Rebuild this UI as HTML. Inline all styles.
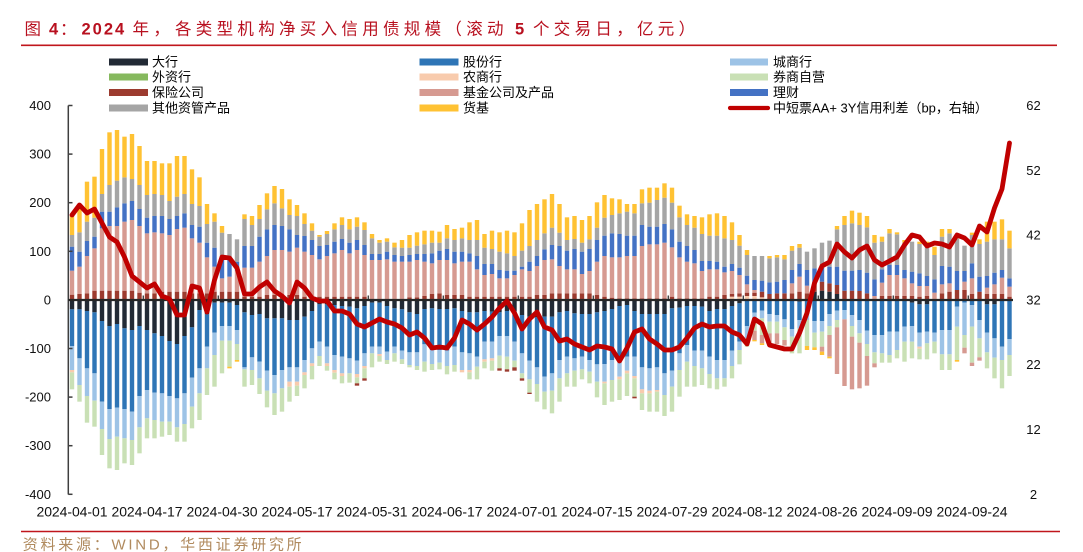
<!DOCTYPE html>
<html>
<head>
<meta charset="utf-8">
<style>
html,body{margin:0;padding:0;background:#fff;}
body{width:1083px;height:552px;overflow:hidden;}
svg{display:block;}
.t{font-family:"Liberation Sans","Noto Sans CJK SC",sans-serif;}
</style>
</head>
<body>
<svg id="chart" width="1083" height="552" viewBox="0 0 1083 552" xmlns="http://www.w3.org/2000/svg">
  <rect x="0" y="0" width="1083" height="552" fill="#ffffff"/>
  <!-- Title -->
  <g class="t" font-size="16.5" fill="#B8101F">
    <text x="24.5" y="34.5">图</text>
    <text x="49" y="34.5" font-weight="bold">4</text>
    <text x="60" y="34.5">：</text>
    <text x="81.5" y="34.5" font-weight="bold" letter-spacing="2">2024</text>
    <text x="132.5" y="34.5" letter-spacing="4.4">年，</text>
    <text x="175" y="34.5" letter-spacing="4.3">各类型机构净买入信用债规模（滚动</text>
    <text x="515" y="34.5" font-weight="bold">5</text>
    <text x="533" y="34.5" letter-spacing="4.3">个交易日，亿元）</text>
  </g>
  <line x1="21" y1="45.3" x2="1057" y2="45.3" stroke="#C0161C" stroke-width="1.6"/>

  <!-- Legend -->
  <g class="t" font-size="13" fill="#000">
    <rect x="109" y="58.5" width="39" height="7" fill="#222A35"/><text x="152" y="66.5">大行</text>
    <rect x="419.5" y="58.5" width="39" height="7" fill="#2E75B6"/><text x="463" y="66.5">股份行</text>
    <rect x="730" y="58.5" width="38" height="7" fill="#9DC3E6"/><text x="773" y="66.5">城商行</text>

    <rect x="109" y="73.5" width="39" height="7" fill="#86B95E"/><text x="152" y="81.5">外资行</text>
    <rect x="419.5" y="73.5" width="39" height="7" fill="#F8CBAD"/><text x="463" y="81.5">农商行</text>
    <rect x="730" y="73.5" width="38" height="7" fill="#C9E0B5"/><text x="773" y="81.5">券商自营</text>

    <rect x="109" y="89" width="39" height="7" fill="#9C3B2F"/><text x="152" y="97">保险公司</text>
    <rect x="419.5" y="89" width="39" height="7" fill="#D69A91"/><text x="463" y="97">基金公司及产品</text>
    <rect x="730" y="89" width="38" height="7" fill="#4472C4"/><text x="773" y="97">理财</text>

    <rect x="109" y="104.5" width="39" height="7" fill="#A5A5A5"/><text x="152" y="112.5">其他资管产品</text>
    <rect x="419.5" y="104.5" width="39" height="7" fill="#FFC233"/><text x="463" y="112.5">货基</text>
    <line x1="730" y1="108" x2="768" y2="108" stroke="#C00000" stroke-width="4.2" stroke-linecap="round"/><text x="773" y="112.5">中短票AA+ 3Y信用利差（bp，右轴）</text>
  </g>

  <!-- Left axis labels -->
  <g class="t" font-size="13" fill="#111" text-anchor="end">
    <text x="51" y="110">400</text>
    <text x="51" y="158.6">300</text>
    <text x="51" y="207.2">200</text>
    <text x="51" y="255.8">100</text>
    <text x="51" y="304.4">0</text>
    <text x="51" y="353">-100</text>
    <text x="51" y="401.6">-200</text>
    <text x="51" y="450.2">-300</text>
    <text x="51" y="498.8">-400</text>
  </g>
  <!-- Right axis labels -->
  <g class="t" font-size="13" fill="#111" text-anchor="middle">
    <text x="1033.5" y="110">62</text>
    <text x="1033.5" y="174.8">52</text>
    <text x="1033.5" y="239.6">42</text>
    <text x="1033.5" y="304.4">32</text>
    <text x="1033.5" y="369.2">22</text>
    <text x="1033.5" y="434">12</text>
    <text x="1033.5" y="498.8">2</text>
  </g>

  <!-- Bars (generated) -->
  <g id="bars"></g>

  <!-- Left axis -->
  <g stroke="#3f3f3f" stroke-width="1.5">
    <line x1="68.3" y1="105.5" x2="68.3" y2="494.5"/>
    <line x1="68.3" y1="105.5" x2="72.5" y2="105.5"/>
    <line x1="68.3" y1="154.1" x2="72.5" y2="154.1"/>
    <line x1="68.3" y1="202.7" x2="72.5" y2="202.7"/>
    <line x1="68.3" y1="251.3" x2="72.5" y2="251.3"/>
    <line x1="68.3" y1="348.5" x2="72.5" y2="348.5"/>
    <line x1="68.3" y1="397.1" x2="72.5" y2="397.1"/>
    <line x1="68.3" y1="445.7" x2="72.5" y2="445.7"/>
    <line x1="68.3" y1="494.3" x2="72.5" y2="494.3"/>
  </g>
  <!-- Zero line and category ticks -->
  <line x1="68.3" y1="300" x2="1013" y2="300" stroke="#262626" stroke-width="2.2"/>
  <g stroke="#262626" stroke-width="1.2">
    <line x1="143.25" y1="295.5" x2="143.25" y2="300"/>
    <line x1="218.25" y1="295.5" x2="218.25" y2="300"/>
    <line x1="293.25" y1="295.5" x2="293.25" y2="300"/>
    <line x1="368.25" y1="295.5" x2="368.25" y2="300"/>
    <line x1="443.25" y1="295.5" x2="443.25" y2="300"/>
    <line x1="518.25" y1="295.5" x2="518.25" y2="300"/>
    <line x1="593.25" y1="295.5" x2="593.25" y2="300"/>
    <line x1="668.25" y1="295.5" x2="668.25" y2="300"/>
    <line x1="743.25" y1="295.5" x2="743.25" y2="300"/>
    <line x1="818.25" y1="295.5" x2="818.25" y2="300"/>
    <line x1="893.25" y1="295.5" x2="893.25" y2="300"/>
    <line x1="968.25" y1="295.5" x2="968.25" y2="300"/>
  </g>

  <!-- Spread line -->
  <polyline id="spread" fill="none" stroke="#C00000" stroke-width="4.8" stroke-linejoin="round" stroke-linecap="round" points=""/>

  <!-- X axis labels -->
  <g class="t" font-size="14" fill="#111">
    <text x="36.5" y="516.5" textLength="71" lengthAdjust="spacing">2024-04-01</text>
    <text x="111.5" y="516.5" textLength="71" lengthAdjust="spacing">2024-04-17</text>
    <text x="186.5" y="516.5" textLength="71" lengthAdjust="spacing">2024-04-30</text>
    <text x="261.5" y="516.5" textLength="71" lengthAdjust="spacing">2024-05-17</text>
    <text x="336.5" y="516.5" textLength="71" lengthAdjust="spacing">2024-05-31</text>
    <text x="411.5" y="516.5" textLength="71" lengthAdjust="spacing">2024-06-17</text>
    <text x="486.5" y="516.5" textLength="71" lengthAdjust="spacing">2024-07-01</text>
    <text x="561.5" y="516.5" textLength="71" lengthAdjust="spacing">2024-07-15</text>
    <text x="636.5" y="516.5" textLength="71" lengthAdjust="spacing">2024-07-29</text>
    <text x="711.5" y="516.5" textLength="71" lengthAdjust="spacing">2024-08-12</text>
    <text x="786.5" y="516.5" textLength="71" lengthAdjust="spacing">2024-08-26</text>
    <text x="861.5" y="516.5" textLength="71" lengthAdjust="spacing">2024-09-09</text>
    <text x="936.5" y="516.5" textLength="71" lengthAdjust="spacing">2024-09-24</text>
  </g>

  <!-- Footer -->
  <line x1="21" y1="531.5" x2="1060" y2="531.5" stroke="#C0161C" stroke-width="1.6"/>
  <text class="t" x="22.7" y="549.5" font-size="15" fill="#B08A5E" textLength="279" lengthAdjust="spacing">资料来源：WIND，华西证券研究所</text>
</svg>

<script>
(function(){
var C={K:'#222A35',S:'#2E75B6',L:'#9DC3E6',W:'#86B95E',P:'#F8CBAD',G:'#C9E0B5',R:'#9C3B2F',F:'#D69A91',B:'#4472C4',O:'#A5A5A5',Y:'#FFC233'};
var P=[
"R524 F452 B380 O345 Y288","R522 F440 B395 O337 Y252","R520 F408 B363 O305 Y185","R512 F385 B350 O293 Y170","R512 F325 B275 O222 Y87",
"R512 F318 B275 O195 Y37","R512 F318 B262 O182 Y30","R512 F305 B250 O172 Y50","R512 F300 B243 O177 Y42","R518 F318 B267 O195 Y78",
"R520 F340 B293 O225 Y123","R520 F337 B288 O222 Y123","R515 F340 B288 O225 Y130","R515 F345 B297 O243 Y130","R515 F327 B288 O230 Y108",
"R515 F323 B280 O222 Y108","R520 F355 B315 O252 Y148","R520 F368 B320 O258 Y172","R520 F412 B368 O312 Y252","R515 F440 B383 O305 Y280",
"R515 F475 B410 O338 Y318","R515 F470 B420 O342","R515 F452 B425 O358","R530 F443 B378 O297 Y283","R530 F443 B378 O315 Y288",
"R530 F425 B350 O297 Y255","R525 F408 B328 O268 Y220","R525 F390 B315 O250 Y198","R525 F390 B318 O265 Y207","R525 F395 B328 O285 Y238",
"R525 F383 B345 O288 Y255","R530 F395 B348 O312 Y280","R530 F405 B360 O332 Y310","R530 F418 B378 O350 Y345","R530 F408 B375 O342 Y333",
"R530 F400 B365 O328 Y310","R530 F390 B357 O315 Y292","R530 F400 B368 O328 Y297","R530 F390 B360 O320 Y292","R530 F405 B375 O330 Y307",
"F420 B402 O355 Y342","F420 B402 O368 Y360","F418 B395 O365 Y355","F425 B405 O382 Y368","F425 B408 O383 Y360",
"R532 F425 B405 O383 Y345","R532 F420 B402 O377 Y337","R528 F425 B402 O373 Y332","R522 F430 B400 O368 Y332","R520 F420 B392 O368 Y335",
"R525 F420 B387 O355 Y315","R525 F430 B395 O360 Y327","R525 F425 B395 O355 Y323","R530 F425 B400 O360 Y307","R530 F448 B408 O360 Y300",
"R530 F465 B432 O383 Y342","R530 F462 B432 O387 Y332","R530 F475 B450 O395 Y337","R530 F475 B452 O400 Y332","R530 F465 B452 O408 Y337",
"R530 F448 B440 O392 Y310","R530 F453 B425 O378 Y270","R525 F438 B408 O360 Y252","R525 F420 B388 O340 Y238","R520 F418 B375 O323 Y222",
"R520 F438 B378 O338 Y252","R520 F448 B392 O360 Y292","R520 F448 B387 O357 Y288","R520 F462 B395 O368 Y300","R520 F453 B387 O358 Y288",
"R525 F425 B360 O323 Y247","R530 F408 B347 O293 Y225","R533 F412 B340 O285 Y235","R535 F412 B342 O280 Y238","R535 F408 B347 O275 Y252",
"R535 F408 B347 O280 Y252","R535 F378 B315 O250 Y208","R535 F373 B320 O248 Y203","R535 F373 B320 O240 Y203","R535 F368 B312 O233 Y190",
"R530 F382 B328 O248 Y203","R535 F412 B365 O292 Y257","R535 F425 B378 O315 Y283","R535 F430 B390 O323 Y288","R535 F453 B423 O342 Y292",
"R530 F448 B423 O347 Y283","R530 F448 B425 O347 Y280","R525 F457 B440 O355 Y288","P530 R522 F453 B432 O360 Y307","P530 R520 F465 B443 O377 Y345",
"P528 R518 F493 B467 O405 Y390","P528 R518 F510 B480 O408","P532 R515 B482 O408","R522 B487 O415 Y408","R520 B485 O412 Y405",
"R520 B480 O418 Y405","R520 F490 B450 O392 Y378","R515 F470 B432 O383 Y372","R520 F497 B450 O395","K515 R487 B445 O385",
"K512 R485 B443 O368","K515 R490 B440 O362","K522 R495 B440 O328 Y318","R512 B452 O315 Y288","R512 B452 O310 Y272",
"R513 B450 O315 Y278","R520 B458 O322 Y288","F528 B478 O368 Y345","R528 F488 B448 O365 Y350","R528 F465 B435 O340 Y327",
"R528 F465 B435 O343 Y337","R528 F475 B450 O368 Y360","R528 F490 B455 O365","R530 F498 B460 O372 Y365","R528 F498 B468 O372 Y365",
"F518 B478 O405 Y380","R520 F493 B438 O350 Y327","R515 F490 B440 O340 Y327","R510 B453 O355 Y345","R510 F485 B453 O377",
"R522 F475 B430 O345 Y338","R515 B470 O372 Y358","R522 F503 B468 O365 Y305","R522 F493 B458 O358 Y305","R522 F473 B450 O358 Y298",
"R530 F500 B475 O385 Y332"
];
var N=[
"K568 S678 L750 P757 G808","K568 S715 L795 G845","K573 S745 L828 G908","K577 S760 L842 G920","K603 S845 L927 G1005",
"K618 S867 L957 G1045","K612 S863 L950 G1050","K625 S867 L955 G1030","K630 S875 L960 G1035","K618 S828 L922 G1000",
"K630 S810 L895 G955","K640 S818 L900 G955","K648 S820 L905 G950","K663 S828 L905 G945","K672 S835 L922 G965",
"K648 S820 L912 G965","K622 S773 L860 G925","K570 S745 L820 G900","K583 S680 L745 G825","K548 S638 L705 G800",
"K548 S618 L662 G760","K548 S618 L662 G740 Y745","K555 S630 L672 G720 Y725","K577 S742 L748 G800","K585 S712 L750 G795",
"K582 S725 L775 G822","K595 S752 L812 G862","K595 S765 L820 G885","K595 S750 L805 G875","K600 S742 L785 P800 G845",
"K600 S742 L785 P797 G828","K590 S720 L757 P765 G805","K573 S685 L730 P738 G778","K553 S665 L708 G738","K553 S680 L730 P738 G752",
"K555 S705 L750 P758 G778","K558 S710 L760 P768 G790","K560 S715 L760 G788","K565 S722 L762 P772 G790 R797","K558 S700 L738 P745 G775 R782",
"K548 S680 L700 G742","K548 S680 L702 P708 G725","K558 S695 L720 G732","K565 S680 L700 G725","K568 S692 L718 G732",
"K577 S697 L735 G742","K582 S697 L738 G750","K567 S673 L725 G755","K565 S690 L732 G750","K567 S690 L728 G748",
"K567 S692 L738 G763","K565 S680 L735 G755","K573 S697 L750 P757","K577 S700 L750 P757 G778","K577 S710 L740 G778",
"K573 S665 L718 P725 G745","K575 S665 L715 P722 G752","K577 S648 L707 G745 R752","K573 S648 L710 G748 R755","K573 S665 L722 G742 R752",
"K585 S700 L760 G775 R782","K590 S722 L778 G818 R822","K592 S742 L792 G845","K590 S770 L815 G868","K590 S760 L812 G880",
"K577 S720 L775 G845","K573 S710 L760 G800","K580 S715 L752 G800","K582 S710 L748 G778","K582 S720 L755 G790",
"K577 S733 L785 G832","K573 S732 L785 P790 G855","K567 S720 L780 G845","K558 S712 L770 P778 G840","K555 S710 L752 P760 G828",
"K573 S710 L768 P775 G830 R835","K582 S742 L808 P820 G870","K582 S745 L812 P820 G875","K582 S742 L810 P815 G875","K582 S760 L825 G888",
"K565 S752 L800 G875","K563 S700 L750 G830","K558 S675 L725 G800","K558 S692 L738 G800","K560 S692 L745 G795",
"K573 S710 L762 G805","K567 S720 L775 G808","K567 S720 L775 G800","K558 S692 L738 G775","K550 S665 L690 G733",
"S618 L655 G680","S578 L598 G632 F660 Y664","S572 L595 G645 F670 Y675","S582 L605 G640 F672","S585 L605 G640 F672",
"S598 L622 G660 F677","S627 L650 G700","K545 S600 L625 G700","S578 L600 G678 Y690","S603 L638 G682 Y690",
"S603 L635 G680 F695 Y705","S582 L618 G645 F710 Y715","S572 L600 G622 F762","S570 L598 F798","S585 L618 G650 F808",
"S600 L640 G668 F805","S632 L672 G708 F797","S645 L697 G730 F742","S645 L700 G728","S635 L705 G728",
"S635 L690 G715","S620 L665 G725","K548 S618 L665 G715","K553 S638 L680 P686 G718","K553 S635 L670 G718",
"S638 L665 G700","S630 L703 G750","S630 L703 G750","S560 L620 G720 Y725","S548 L645 G683 F700",
"S555 L620 G728 F738","S600 L655 G712 F722","K553 S638 L697 G745","K553 S655 L713 G775","S680 L720 G805",
"S657 L705 G768"
];
var L=[215,205,213,209,223,237,242,257,276,282,
288,284,296,299,315,315,286,288,312,280,
257,258,268,294,294,287,282,291,296,303,
282,288,298,301,301,311,311,314,324,327,
323,319,322,324,328,335,332,338,348,347,
348,338,320,324,330,324,317,308,301,313,
329,319,312,327,330,341,339,344,347,350,
346,347,349,361,348,332,329,339,344,350,
350,347,338,328,324,327,326,326,332,335,
344,319,324,345,347,349,349,333,313,283,
266,262,244,252,258,250,246,260,265,261,
257,245,235,237,246,243,244,247,235,238,
245,226,232,208,189,143];
var NS='http://www.w3.org/2000/svg';
var g=document.getElementById('bars');
function addRect(x,y1,y2,c){
  if(y2-y1<=0) return;
  var r=document.createElementNS(NS,'rect');
  r.setAttribute('x',x.toFixed(2));
  r.setAttribute('y',y1.toFixed(2));
  r.setAttribute('width','4.4');
  r.setAttribute('height',(y2-y1).toFixed(2));
  r.setAttribute('fill',c);
  g.appendChild(r);
}
for(var i=0;i<126;i++){
  var x=72+7.5*i-2.2;
  var prev=540;
  var tp=P[i].split(' ');
  for(var j=0;j<tp.length;j++){
    var v=+tp[j].slice(1);
    addRect(x,120+v/3,120+prev/3,C[tp[j][0]]);
    prev=v;
  }
  prev=540;
  var tn=N[i].split(' ');
  for(var k=0;k<tn.length;k++){
    var w=+tn[k].slice(1);
    addRect(x,120+prev/3,120+w/3,C[tn[k][0]]);
    prev=w;
  }
}
var pts=[];
for(var m=0;m<L.length;m++){pts.push((72+7.5*m).toFixed(1)+','+L[m]);}
document.getElementById('spread').setAttribute('points',pts.join(' '));
})();
</script>
</body>
</html>
